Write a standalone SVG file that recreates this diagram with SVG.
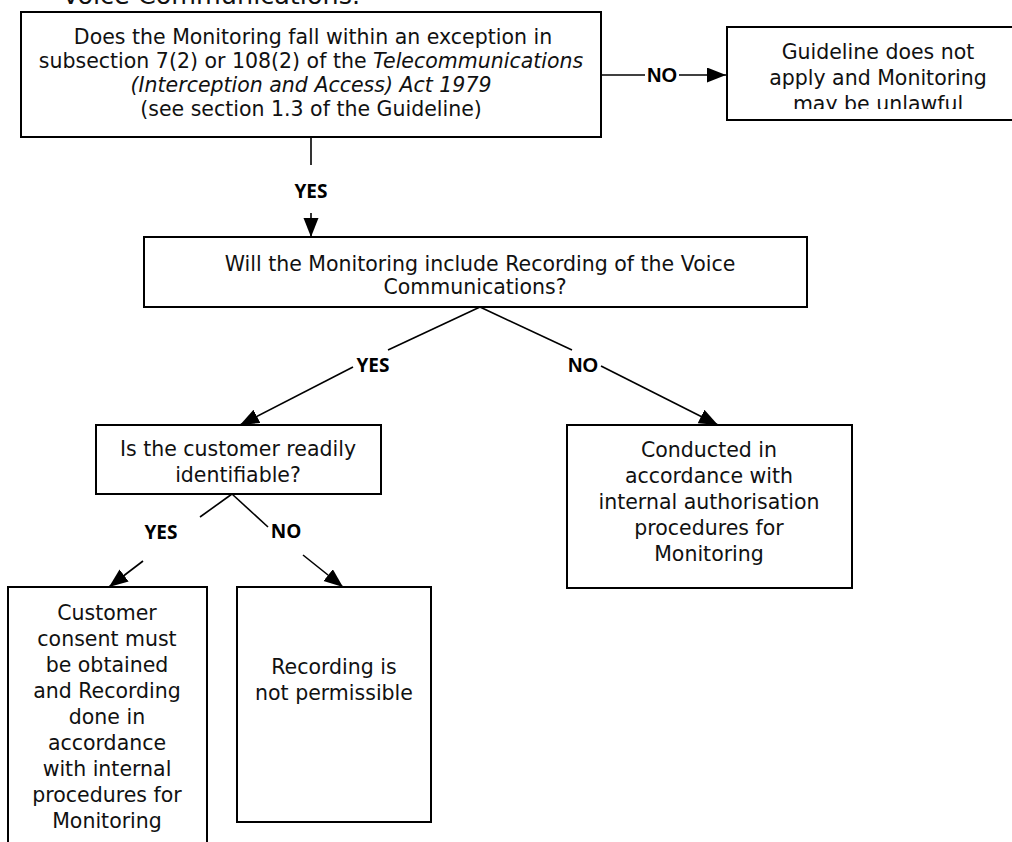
<svg xmlns="http://www.w3.org/2000/svg" width="1012" height="842" viewBox="0 0 1012 842">
<style>
.box{fill:#fff;stroke:#000;stroke-width:2}
.t{font-family:"DejaVu Sans",sans-serif;font-size:20.5px;fill:#111;text-anchor:middle}
.lblA{font-family:"Liberation Sans",Arial,sans-serif;font-weight:bold;font-size:20px;fill:#000;text-anchor:middle}
.lblB{font-family:"Open Sans",sans-serif;font-weight:bold;font-size:19px;fill:#000;text-anchor:middle}
.c{stroke:#000;stroke-width:1.6;fill:none}
</style>
<defs>
<marker id="ah" markerUnits="userSpaceOnUse" markerWidth="22" markerHeight="16" refX="19" refY="7.5" orient="auto">
<path d="M0,0 L19,7.5 L0,15 z" fill="#000"/>
</marker>
<clipPath id="clip2"><rect x="727" y="27" width="300" height="82"/></clipPath>
</defs>

<text x="62" y="4" textLength="298" lengthAdjust="spacingAndGlyphs" style="font-family:'DejaVu Sans',sans-serif;font-size:25px;fill:#111">Voice Communications.</text>

<g id="connectors">
<line class="c" x1="601" y1="75" x2="645" y2="75"/>
<line class="c" x1="679" y1="75" x2="726" y2="75" marker-end="url(#ah)"/>
<line class="c" x1="311" y1="137" x2="311" y2="165"/>
<line class="c" x1="311" y1="213" x2="311" y2="237" marker-end="url(#ah)"/>
<line class="c" x1="480" y1="307" x2="388" y2="350"/>
<line class="c" x1="353" y1="367" x2="240" y2="425" marker-end="url(#ah)"/>
<line class="c" x1="480" y1="307" x2="572" y2="350"/>
<line class="c" x1="601" y1="366" x2="718" y2="425" marker-end="url(#ah)"/>
<line class="c" x1="232" y1="494" x2="200" y2="517"/>
<line class="c" x1="143" y1="561" x2="109" y2="587" marker-end="url(#ah)"/>
<line class="c" x1="232" y1="494" x2="268" y2="527"/>
<line class="c" x1="303" y1="555" x2="343" y2="587" marker-end="url(#ah)"/>
<text class="lblA" x="662" y="82">NO</text>
<text class="lblB" x="311" y="198">YES</text>
<text class="lblB" x="373" y="372">YES</text>
<text class="lblA" x="583" y="372">NO</text>
<text class="lblB" x="161" y="539">YES</text>
<text class="lblB" x="286" y="538">NO</text>
</g>

<g id="n1">
<rect class="box" x="21" y="12" width="580" height="125"/>
<text class="t" x="313" y="44">Does the Monitoring fall within an exception in</text>
<text class="t" x="311" y="68">subsection 7(2) or 108(2) of the <tspan font-style="italic">Telecommunications</tspan></text>
<text class="t" x="311" y="92" font-style="italic">(Interception and Access) Act 1979</text>
<text class="t" x="311" y="116">(see section 1.3 of the Guideline)</text>
</g>

<g id="n2">
<rect class="box" x="727" y="27" width="300" height="93"/>
<g clip-path="url(#clip2)">
<text class="t" x="878" y="59">Guideline does not</text>
<text class="t" x="878" y="85">apply and Monitoring</text>
<text class="t" x="878" y="111">may be unlawful</text>
</g>
</g>

<g id="n3">
<rect class="box" x="144" y="237" width="663" height="70"/>
<text class="t" x="480" y="271">Will the Monitoring include Recording of the Voice</text>
<text class="t" x="475" y="294">Communications?</text>
</g>

<g id="n4">
<rect class="box" x="96" y="425" width="285" height="69"/>
<text class="t" x="238" y="456">Is the customer readily</text>
<text class="t" x="238" y="482">identifiable?</text>
</g>

<g id="n5">
<rect class="box" x="567" y="425" width="285" height="163"/>
<text class="t" x="709" y="457">Conducted in</text>
<text class="t" x="709" y="483">accordance with</text>
<text class="t" x="709" y="509">internal authorisation</text>
<text class="t" x="709" y="535">procedures for</text>
<text class="t" x="709" y="561">Monitoring</text>
</g>

<g id="n6">
<rect class="box" x="8" y="587" width="199" height="270"/>
<text class="t" x="107" y="620">Customer</text>
<text class="t" x="107" y="646">consent must</text>
<text class="t" x="107" y="672">be obtained</text>
<text class="t" x="107" y="698">and Recording</text>
<text class="t" x="107" y="724">done in</text>
<text class="t" x="107" y="750">accordance</text>
<text class="t" x="107" y="776">with internal</text>
<text class="t" x="107" y="802">procedures for</text>
<text class="t" x="107" y="828">Monitoring</text>
</g>

<g id="n7">
<rect class="box" x="237" y="587" width="194" height="235"/>
<text class="t" x="334" y="674">Recording is</text>
<text class="t" x="334" y="700">not permissible</text>
</g>
</svg>
